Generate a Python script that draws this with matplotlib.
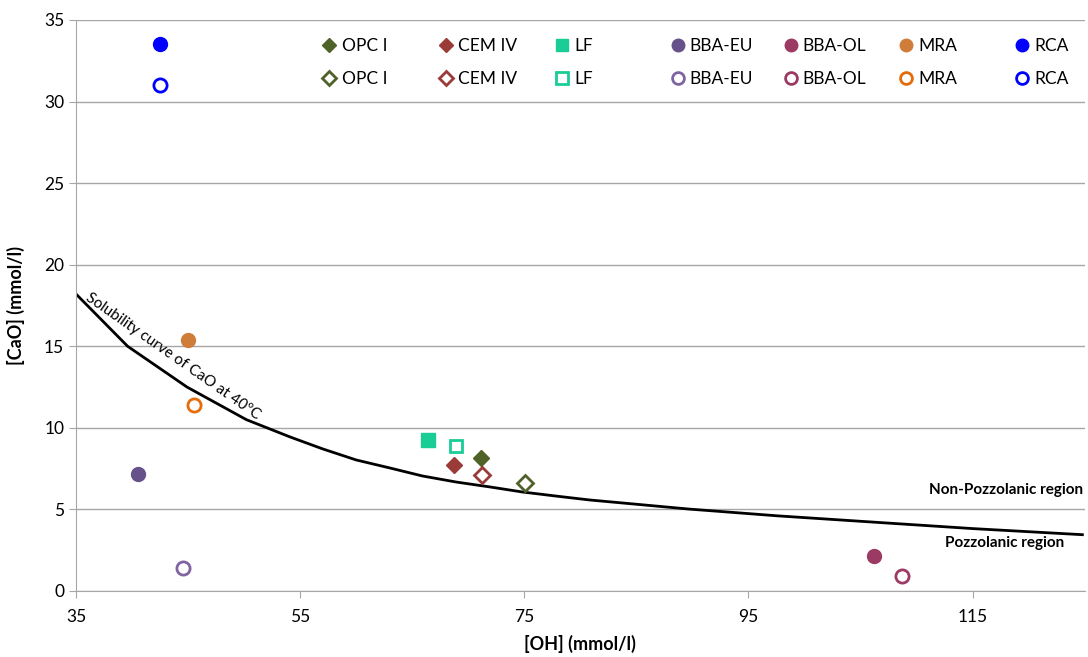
import matplotlib.pyplot as plt
from matplotlib.lines import Line2D

plt.rcParams['font.family'] = ['Lato', 'DejaVu Sans']

# Datos: [OH] y [CaO] en mmol/l (muestra llena = 1a serie, vacia = 2a serie)
materiales = ['OPC I', 'CEM IV', 'LF', 'BBA-EU', 'BBA-OL', 'MRA', 'RCA']
oh_lleno = [71.1, 68.7, 66.4, 40.5, 106.2, 45.0, 42.5]
cao_lleno = [8.15, 7.73, 9.26, 7.17, 2.15, 15.4, 33.5]
oh_vacio = [75.1, 71.2, 68.9, 44.5, 108.7, 45.5, 42.5]
cao_vacio = [6.62, 7.11, 8.89, 1.41, 0.92, 11.4, 31.0]

# Curva de solubilidad del CaO a 40ºC
curva_oh = [35.0, 39.6, 44.9, 50.2, 54.1, 57.0, 60.0, 63.0, 65.9, 68.9, 71.9,
            74.8, 77.8, 80.8, 89.7, 97.7, 106.6, 115.1, 124.8]
curva_cao = [18.2, 15.0, 12.5, 10.5, 9.44, 8.71, 8.03, 7.54, 7.05, 6.68, 6.38,
             6.07, 5.82, 5.58, 5.02, 4.6, 4.2, 3.82, 3.45]

marcadores = ['D', 'D', 's', 'o', 'o', 'o', 'o']
color_lleno = ['#4F6228', '#9B3B38', '#1ACC96', '#66518A', '#9B3A63', '#CF7E3A', '#0000FF']
color_vacio = ['#4F6228', '#9B3B38', '#1ACC96', '#8064A2', '#9B3A63', '#E46C0A', '#0000FF']
tam = [8.5, 8.5, 9.5, 10, 10, 10, 10]

fig = plt.figure(figsize=(10.88, 6.57), dpi=100)
ax = fig.add_axes([0.0699, 0.1005, 0.927, 0.8691])

ax.plot(curva_oh, curva_cao, color='black', lw=2, zorder=2)

for i, m in enumerate(materiales):
    ax.plot(oh_lleno[i], cao_lleno[i], marker=marcadores[i], ms=tam[i], ls='none',
            color=color_lleno[i], mec=color_lleno[i], zorder=3)
    ax.plot(oh_vacio[i], cao_vacio[i], marker=marcadores[i], ms=tam[i] - 0.5, ls='none',
            mfc='white', mec=color_vacio[i], mew=2, zorder=3)

ax.set_xlim(35, 125)
ax.set_ylim(0, 35)
ax.set_xticks([35, 55, 75, 95, 115])
ax.set_yticks(range(0, 36, 5))
ax.grid(axis='y', color='#A6A6A6', lw=1)
ax.set_axisbelow(True)
for s in ['top', 'right']:
    ax.spines[s].set_visible(False)
for s in ['left', 'bottom']:
    ax.spines[s].set_color('#A6A6A6')
ax.tick_params(colors='#A6A6A6', labelcolor='black', labelsize=12.5, length=5)
ax.tick_params(axis='x', pad=8)

ax.set_xlabel('[OH] (mmol/l)', fontsize=13, fontweight='bold', labelpad=7)
ax.set_ylabel('[CaO] (mmol/l)', fontsize=13, fontweight='bold', labelpad=14)

ax.text(43.6, 14.35, 'Solubility curve of CaO at 40ºC', rotation=-35,
        ha='center', va='center', fontsize=11, rotation_mode='anchor')
ax.text(124.9, 6.2, 'Non-Pozzolanic region', ha='right', va='center',
        fontsize=11, fontweight='bold')
ax.text(123.2, 2.94, 'Pozzolanic region', ha='right', va='center',
        fontsize=11, fontweight='bold')

# leyenda: una columna por material, como en Excel
x_leyenda = [0.290, 0.397, 0.504, 0.610, 0.714, 0.820, 0.927]
for i, m in enumerate(materiales):
    h1 = Line2D([], [], marker=marcadores[i], ms=tam[i] - 1, ls='none',
                color=color_lleno[i])
    h2 = Line2D([], [], marker=marcadores[i], ms=tam[i] - 1.5, ls='none',
                mfc='white', mec=color_vacio[i], mew=2)
    leg = fig.legend([h1, h2], [m, m], loc='upper left',
                     bbox_to_anchor=(x_leyenda[i], 0.953), frameon=False,
                     fontsize=12.5, handlelength=0.8, handletextpad=0.3,
                     labelspacing=1.0, borderaxespad=0)

fig.savefig('out.png', dpi=100)
